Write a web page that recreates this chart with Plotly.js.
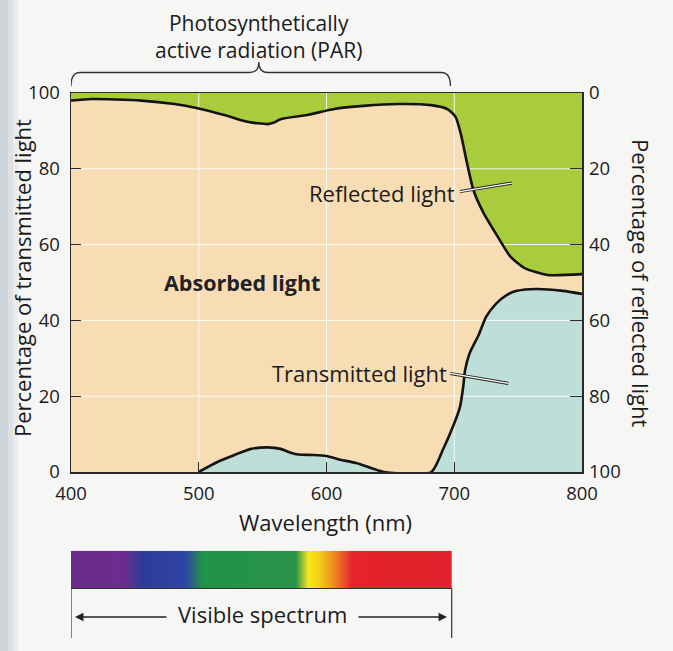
<!DOCTYPE html>
<html>
<head>
<meta charset="utf-8">
<script src="https://cdn.plot.ly/plotly-3.0.1.min.js"></script>
<style>
html,body{margin:0;padding:0;background:#f6f6f5;}
#chart{width:673px;height:651px;}
</style>
</head>
<body>
<div id="chart"></div>
<script>
// ---------- data ----------
const wavelengthRefl = [400, 416, 455, 481, 499, 520, 538, 554, 559, 564, 585, 606, 629, 656, 682, 695, 701, 705, 710, 715, 723, 734, 744, 755, 773, 800];
const reflectedPct   = [2.0, 1.6, 2.0, 2.9, 4.0, 5.8, 7.6, 8.2, 7.8, 6.9, 5.8, 4.2, 3.4, 2.9, 3.2, 4.3, 6.3, 10.6, 18.5, 25.6, 31.7, 37.9, 43.2, 46.2, 48.0, 47.8];

const wavelengthTrans = [500, 515, 528, 541, 554, 564, 572, 578, 590, 600, 610, 624, 645, 682, 691, 699, 704.5, 707, 708.5, 712, 719, 725, 733, 741, 749, 764, 785, 800];
const transmittedPct  = [0, 2.7, 4.5, 6.1, 6.5, 6.1, 5.1, 4.6, 4.5, 4.2, 3.3, 2.3, 0, 0, 5.8, 12.0, 17.2, 22.5, 26.9, 31.3, 36.1, 41.0, 44.5, 46.7, 47.8, 48.3, 47.8, 47.0];

const xTicks = [400, 500, 600, 700, 800];
const yTicks = [0, 20, 40, 60, 80, 100];
const gridX = [500, 600, 700];
const gridY = [20, 40, 60, 80];

const spectrumNm     = [400, 442, 456, 490, 503, 576, 586, 594, 606, 620, 698];
const spectrumColors = ['#6a2c8c', '#6b2e8e', '#2f3b98', '#2f45a2', '#1f9346', '#2a9449', '#f6e81a', '#f6cf14', '#ef8a25', '#e4232b', '#e2222c'];

const parRange = [400, 697];

// ---------- geometry helpers ----------
const W = 673, H = 651;
const L = 71, R = 582, T = 93, B = 472;
const px2x = px => (px - L) / (R - L);
const py2y = py => 1 - py / H;

// ---------- derived ----------
const absorbedTop = reflectedPct.map(v => 100 - v);
const gridXs = [], gridYs = [];
gridX.forEach(g => { gridXs.push(g, g, null); gridYs.push(0, 100, null); });
gridY.forEach(g => { gridXs.push(xTicks[0], xTicks[xTicks.length-1], null); gridYs.push(g, g, null); });

const s0 = spectrumNm[0], s1 = spectrumNm[spectrumNm.length - 1];
const spectrumScale = spectrumNm.map((nm, i) => [(nm - s0) / (s1 - s0), spectrumColors[i]]);

const ink = '#1b1b1b';
const curveStyle = {color: '#141414', width: 2.6, shape: 'spline', smoothing: 0.6};

const traces = [
  {x: wavelengthRefl, y: absorbedTop, type: 'scatter', mode: 'lines',
   line: {width: 0, shape: 'spline', smoothing: 0.6}, fill: 'tozeroy', fillcolor: '#f8dcb3', hoverinfo: 'skip'},
  {x: wavelengthTrans, y: transmittedPct, type: 'scatter', mode: 'lines',
   line: {width: 0, shape: 'spline', smoothing: 0.6}, fill: 'tozeroy', fillcolor: '#bddfd8', hoverinfo: 'skip'},
  {x: gridXs, y: gridYs, type: 'scatter', mode: 'lines',
   line: {color: 'rgba(255,255,255,0.9)', width: 1}, hoverinfo: 'skip'},
  {x: wavelengthTrans, y: transmittedPct, type: 'scatter', mode: 'lines', line: curveStyle, hoverinfo: 'skip'},
  {x: wavelengthRefl, y: reflectedPct, type: 'scatter', mode: 'lines', yaxis: 'y2', line: curveStyle, hoverinfo: 'skip'},
  {x: [s0, s1, s1, s0, s0], y: [0, 0, 1, 1, 0], type: 'scatter', mode: 'lines', yaxis: 'y3',
   fill: 'toself', fillcolor: '#2a9448',
   fillgradient: {type: 'horizontal', colorscale: spectrumScale},
   line: {width: 0}, hoverinfo: 'skip'}
];

// brace path
const bx0 = parRange[0], bx1 = parRange[1], bxm = (parRange[0] + parRange[1]) / 2 - 1.5, br = 7;
const yTop = py2y(72.5), yEnd = py2y(86), yCusp = py2y(62);
const bracePath = `M ${bx0},${yEnd} Q ${bx0},${yTop} ${bx0+br},${yTop} L ${bxm-br},${yTop} Q ${bxm},${yTop} ${bxm},${yCusp} Q ${bxm},${yTop} ${bxm+br},${yTop} L ${bx1-br},${yTop} Q ${bx1},${yTop} ${bx1},${yEnd}`;

const shapes = [
  {type: 'rect', xref: 'x domain', yref: 'y domain', x0: 0, x1: 1, y0: 0, y1: 1,
   fillcolor: '#a9cc3c', line: {width: 0}, layer: 'below'},
  {type: 'rect', xref: 'paper', yref: 'paper', x0: px2x(0), x1: px2x(8), y0: 0, y1: 1, fillcolor: '#cdd5dc', line: {width: 0}, layer: 'below'},
  {type: 'rect', xref: 'paper', yref: 'paper', x0: px2x(8), x1: px2x(13), y0: 0, y1: 1, fillcolor: '#dce1e6', line: {width: 0}, layer: 'below'},
  {type: 'rect', xref: 'paper', yref: 'paper', x0: px2x(13), x1: px2x(18), y0: 0, y1: 1, fillcolor: '#eaedef', line: {width: 0}, layer: 'below'},
  {type: 'path', xref: 'x', yref: 'paper', path: bracePath, line: {color: '#333', width: 1.3}},
  {type: 'line', xref: 'x', yref: 'y', x0: 704.5, y0: 74.0, x1: 745, y1: 76.2, line: {color: '#222', width: 3.2}},
  {type: 'line', xref: 'x', yref: 'y', x0: 704.5, y0: 74.0, x1: 745, y1: 76.2, line: {color: '#ffffff', width: 1.2}},
  {type: 'line', xref: 'x', yref: 'y', x0: 696.7, y0: 26.0, x1: 742.3, y1: 23.4, line: {color: '#222', width: 3.2}},
  {type: 'line', xref: 'x', yref: 'y', x0: 696.7, y0: 26.0, x1: 742.3, y1: 23.4, line: {color: '#ffffff', width: 1.2}},
  {type: 'line', xref: 'x', yref: 'paper', x0: s0, x1: s1, y0: py2y(588.5), y1: py2y(588.5), line: {color: '#333', width: 1.2}},
  {type: 'line', xref: 'x', yref: 'paper', x0: s0, x1: s0, y0: py2y(588), y1: py2y(638), line: {color: '#333', width: 1.2}},
  {type: 'line', xref: 'x', yref: 'paper', x0: s1, x1: s1, y0: py2y(588), y1: py2y(638), line: {color: '#333', width: 1.2}}
];

const txt = (text, px, py, opts = {}) => Object.assign({
  text: text, xref: 'paper', yref: 'paper', x: px2x(px), y: py2y(py),
  xanchor: 'center', yanchor: 'middle', showarrow: false,
  font: {family: 'Open Sans, sans-serif', size: 22, color: ink}
}, opts);

const annotations = [
  txt('Photosynthetically<br>active radiation (PAR)', 258, 36.5, {font: {family: 'Open Sans, sans-serif', size: 21, color: ink}}),
  txt('<b>Absorbed light</b>', 241.5, 282.5, {font: {family: 'Open Sans, sans-serif', size: 21.5, color: '#222'}}),
  txt('Reflected light', 457, 193, {xanchor: 'right'}),
  txt('Transmitted light', 448.5, 372.5, {xanchor: 'right'}),
  txt('Wavelength (nm)', 325.5, 522),
  txt('Percentage of transmitted light', 22, 278, {textangle: -90}),
  txt('Percentage of reflected light', 641, 283, {textangle: 90}),
  txt('Visible spectrum', 262, 614),
  {text: '', xref: 'paper', yref: 'paper', x: px2x(75), y: py2y(617), ax: 93, ay: 0,
   showarrow: true, arrowhead: 2, arrowsize: 1.3, arrowwidth: 1.3, arrowcolor: '#222'},
  {text: '', xref: 'paper', yref: 'paper', x: px2x(447), y: py2y(617), ax: -90, ay: 0,
   showarrow: true, arrowhead: 2, arrowsize: 1.3, arrowwidth: 1.3, arrowcolor: '#222'}
];

const axisCommon = {
  ticks: 'inside', ticklen: 10, tickwidth: 1.3, tickcolor: '#2a2a2a',
  showgrid: false, zeroline: false,
  tickfont: {family: 'Open Sans, sans-serif', size: 18.5, color: ink}
};

const layout = {
  width: W, height: H,
  margin: {l: L, r: W - R, t: 0, b: 0, pad: 0},
  paper_bgcolor: '#f6f6f5', plot_bgcolor: 'rgba(0,0,0,0)',
  showlegend: false, hovermode: false,
  font: {family: 'Open Sans, sans-serif', color: ink},
  xaxis: Object.assign({}, axisCommon, {
    range: [xTicks[0], xTicks[xTicks.length-1]], tickvals: xTicks,
    showline: true, linecolor: '#2a2a2a', linewidth: 1.5, mirror: true, anchor: 'y',
    ticklabelstandoff: 4
  }),
  yaxis: Object.assign({}, axisCommon, {
    domain: [py2y(B), py2y(T)], range: [0, 100], tickvals: yTicks,
    showline: true, linecolor: '#2a2a2a', linewidth: 1.5, mirror: true,
    ticklabelstandoff: 6
  }),
  yaxis2: Object.assign({}, axisCommon, {
    overlaying: 'y', side: 'right', range: [100, 0], tickvals: yTicks, ticklen: 12,
    showline: false, ticklabelstandoff: 6
  }),
  yaxis3: {domain: [py2y(588.3), py2y(550.7)], range: [0, 1], visible: false, anchor: 'x', fixedrange: true},
  shapes: shapes,
  annotations: annotations
};

Plotly.newPlot('chart', traces, layout, {staticPlot: true, displayModeBar: false});
</script>
</body>
</html>
